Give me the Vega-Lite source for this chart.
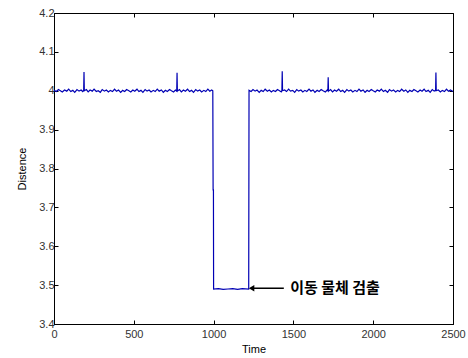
{
  "$schema": "https://vega.github.io/schema/vega-lite/v6.json",
  "autosize": "none",
  "width": 399,
  "height": 311,
  "padding": {"left": 54, "top": 13, "right": 15, "bottom": 34},
  "background": "white",
  "config": {
    "view": {"stroke": "black", "strokeWidth": 1},
    "font": "Liberation Sans",
    "axis": {
      "domainColor": "#000000",
      "tickColor": "#000000",
      "labelColor": "#333333",
      "titleColor": "#000000",
      "labelFont": "Liberation Sans",
      "titleFont": "Liberation Sans",
      "labelFontSize": 11,
      "titleFontSize": 11,
      "titleFontWeight": "normal",
      "grid": false,
      "tickSize": -4
    }
  },
  "datasets": {
    "signal": [
      {"t":0,"d":4.001},{"t":15,"d":3.998},{"t":28,"d":4.003},{"t":40,"d":4.0},{"t":52,"d":3.997},{"t":66,"d":4.002},{"t":80,"d":3.999},{"t":92,"d":4.004},{"t":105,"d":3.998},{"t":118,"d":4.001},{"t":130,"d":3.996},{"t":144,"d":4.003},{"t":157,"d":3.999},{"t":170,"d":4.002},{"t":180,"d":3.998},{"t":186,"d":4.001},{"t":188,"d":4.048},{"t":190,"d":4.0},{"t":203,"d":4.003},{"t":214,"d":3.997},{"t":226,"d":4.002},{"t":240,"d":3.999},{"t":251,"d":4.004},{"t":265,"d":3.998},{"t":277,"d":4.0},{"t":290,"d":3.996},{"t":302,"d":4.003},{"t":316,"d":3.999},{"t":328,"d":4.002},{"t":341,"d":3.997},{"t":353,"d":4.001},{"t":367,"d":3.998},{"t":379,"d":4.004},{"t":392,"d":3.999},{"t":404,"d":4.002},{"t":418,"d":3.996},{"t":430,"d":4.001},{"t":443,"d":3.998},{"t":455,"d":4.003},{"t":469,"d":4.0},{"t":481,"d":3.997},{"t":494,"d":4.002},{"t":506,"d":3.999},{"t":520,"d":4.004},{"t":532,"d":3.998},{"t":545,"d":4.001},{"t":557,"d":3.996},{"t":571,"d":4.003},{"t":583,"d":3.999},{"t":596,"d":4.002},{"t":608,"d":3.997},{"t":622,"d":4.001},{"t":634,"d":3.998},{"t":647,"d":4.004},{"t":659,"d":3.999},{"t":673,"d":4.002},{"t":685,"d":3.996},{"t":698,"d":4.001},{"t":710,"d":3.998},{"t":724,"d":4.003},{"t":736,"d":4.0},{"t":749,"d":3.997},{"t":761,"d":4.002},{"t":769,"d":3.999},{"t":771,"d":4.046},{"t":773,"d":3.999},{"t":786,"d":4.003},{"t":798,"d":3.997},{"t":811,"d":4.002},{"t":823,"d":3.999},{"t":837,"d":4.004},{"t":849,"d":3.998},{"t":862,"d":4.001},{"t":874,"d":3.996},{"t":888,"d":4.003},{"t":900,"d":3.999},{"t":913,"d":4.002},{"t":925,"d":3.997},{"t":939,"d":4.001},{"t":951,"d":3.998},{"t":964,"d":4.004},{"t":976,"d":3.999},{"t":988,"d":4.002},{"t":995,"d":4.0},{"t":997,"d":3.745},{"t":999,"d":3.745},{"t":1000,"d":3.49},{"t":1030,"d":3.491},{"t":1060,"d":3.489},{"t":1090,"d":3.49},{"t":1120,"d":3.491},{"t":1150,"d":3.489},{"t":1180,"d":3.491},{"t":1220,"d":3.49},{"t":1222,"d":4.001},{"t":1235,"d":3.998},{"t":1247,"d":4.003},{"t":1260,"d":3.999},{"t":1272,"d":4.002},{"t":1286,"d":3.996},{"t":1298,"d":4.001},{"t":1311,"d":3.998},{"t":1323,"d":4.004},{"t":1337,"d":3.999},{"t":1349,"d":4.002},{"t":1362,"d":3.997},{"t":1374,"d":4.001},{"t":1388,"d":3.998},{"t":1400,"d":4.003},{"t":1413,"d":4.0},{"t":1424,"d":3.997},{"t":1428,"d":4.001},{"t":1430,"d":4.05},{"t":1432,"d":4.0},{"t":1445,"d":4.002},{"t":1457,"d":3.998},{"t":1470,"d":4.004},{"t":1482,"d":3.999},{"t":1496,"d":4.001},{"t":1508,"d":3.996},{"t":1521,"d":4.003},{"t":1533,"d":3.999},{"t":1547,"d":4.002},{"t":1559,"d":3.997},{"t":1572,"d":4.001},{"t":1584,"d":3.998},{"t":1598,"d":4.004},{"t":1610,"d":3.999},{"t":1623,"d":4.002},{"t":1635,"d":3.996},{"t":1649,"d":4.001},{"t":1661,"d":3.998},{"t":1674,"d":4.003},{"t":1686,"d":4.0},{"t":1700,"d":3.997},{"t":1712,"d":4.002},{"t":1716,"d":4.0},{"t":1718,"d":4.035},{"t":1720,"d":3.999},{"t":1733,"d":4.003},{"t":1745,"d":3.997},{"t":1758,"d":4.002},{"t":1770,"d":3.999},{"t":1784,"d":4.004},{"t":1796,"d":3.998},{"t":1809,"d":4.001},{"t":1821,"d":3.996},{"t":1835,"d":4.003},{"t":1847,"d":3.999},{"t":1860,"d":4.002},{"t":1872,"d":3.997},{"t":1886,"d":4.001},{"t":1898,"d":3.998},{"t":1911,"d":4.004},{"t":1923,"d":3.999},{"t":1937,"d":4.002},{"t":1949,"d":3.996},{"t":1962,"d":4.001},{"t":1974,"d":3.998},{"t":1988,"d":4.003},{"t":2000,"d":4.0},{"t":2013,"d":3.997},{"t":2025,"d":4.002},{"t":2039,"d":3.999},{"t":2051,"d":4.004},{"t":2064,"d":3.998},{"t":2076,"d":4.001},{"t":2090,"d":3.996},{"t":2102,"d":4.003},{"t":2115,"d":3.999},{"t":2127,"d":4.002},{"t":2141,"d":3.997},{"t":2153,"d":4.001},{"t":2166,"d":3.998},{"t":2178,"d":4.004},{"t":2192,"d":3.999},{"t":2204,"d":4.002},{"t":2217,"d":3.996},{"t":2229,"d":4.001},{"t":2243,"d":3.998},{"t":2255,"d":4.003},{"t":2268,"d":4.0},{"t":2280,"d":3.997},{"t":2294,"d":4.002},{"t":2306,"d":3.999},{"t":2319,"d":4.004},{"t":2331,"d":3.998},{"t":2345,"d":4.001},{"t":2357,"d":3.996},{"t":2370,"d":4.003},{"t":2382,"d":3.999},{"t":2391,"d":4.001},{"t":2393,"d":4.047},{"t":2395,"d":4.0},{"t":2408,"d":4.002},{"t":2421,"d":3.997},{"t":2433,"d":4.001},{"t":2447,"d":3.998},{"t":2459,"d":4.004},{"t":2472,"d":3.999},{"t":2484,"d":4.002},{"t":2500,"d":3.998}
    ],
    "arrow": [{"t1": 1245, "t2": 1440, "d": 3.492}],
    "head": [{"t": 1238, "d": 3.492}],
    "label": [{"t": 1480, "d": 3.492, "text": "이동 물체 검출"}]
  },
  "layer": [
    {
      "data": {"name": "signal"},
      "mark": {"type": "line", "color": "#0000b4", "strokeWidth": 1.2, "interpolate": "linear"},
      "encoding": {
        "x": {"field": "t", "type": "quantitative", "scale": {"domain": [0, 2500], "nice": false},
          "axis": {"orient": "bottom", "title": "Time", "values": [0,500,1000,1500,2000,2500], "format": "d", "labelPadding": 8, "titlePadding": 4, "labelFlush": false}},
        "y": {"field": "d", "type": "quantitative", "scale": {"domain": [3.4, 4.2], "nice": false, "zero": false},
          "axis": {"orient": "left", "title": "Distence", "values": [3.4,3.5,3.6,3.7,3.8,3.9,4.0,4.1,4.2], "format": ".1~f", "labelPadding": 4, "titlePadding": 11, "labelFlush": false}}
      }
    },
    {
      "data": {"name": "signal"},
      "mark": {"type": "line", "opacity": 0},
      "encoding": {
        "x": {"field": "t", "type": "quantitative", "scale": {"domain": [0, 2500], "nice": false},
          "axis": {"orient": "top", "title": null, "labels": false, "domain": false, "values": [0,500,1000,1500,2000,2500]}},
        "y": {"field": "d", "type": "quantitative", "scale": {"domain": [3.4, 4.2], "nice": false, "zero": false},
          "axis": {"orient": "right", "title": null, "labels": false, "domain": false, "values": [3.4,3.5,3.6,3.7,3.8,3.9,4.0,4.1,4.2]}}
      }
    },
    {
      "data": {"name": "arrow"},
      "mark": {"type": "rule", "color": "black", "strokeWidth": 1.5},
      "encoding": {
        "x": {"field": "t1", "type": "quantitative", "axis": null},
        "x2": {"field": "t2"},
        "y": {"field": "d", "type": "quantitative", "axis": null}
      }
    },
    {
      "data": {"name": "head"},
      "mark": {"type": "point", "shape": "triangle-left", "filled": true, "color": "black", "size": 40, "opacity": 1},
      "encoding": {
        "x": {"field": "t", "type": "quantitative", "axis": null},
        "y": {"field": "d", "type": "quantitative", "axis": null}
      }
    },
    {
      "data": {"name": "label"},
      "mark": {"type": "text", "align": "left", "baseline": "middle", "font": "Noto Sans CJK KR", "fontWeight": "bold", "fontSize": 15, "color": "black"},
      "encoding": {
        "x": {"field": "t", "type": "quantitative", "axis": null},
        "y": {"field": "d", "type": "quantitative", "axis": null},
        "text": {"field": "text"}
      }
    }
  ],
  "resolve": {"axis": {"x": "independent", "y": "independent"}}
}
